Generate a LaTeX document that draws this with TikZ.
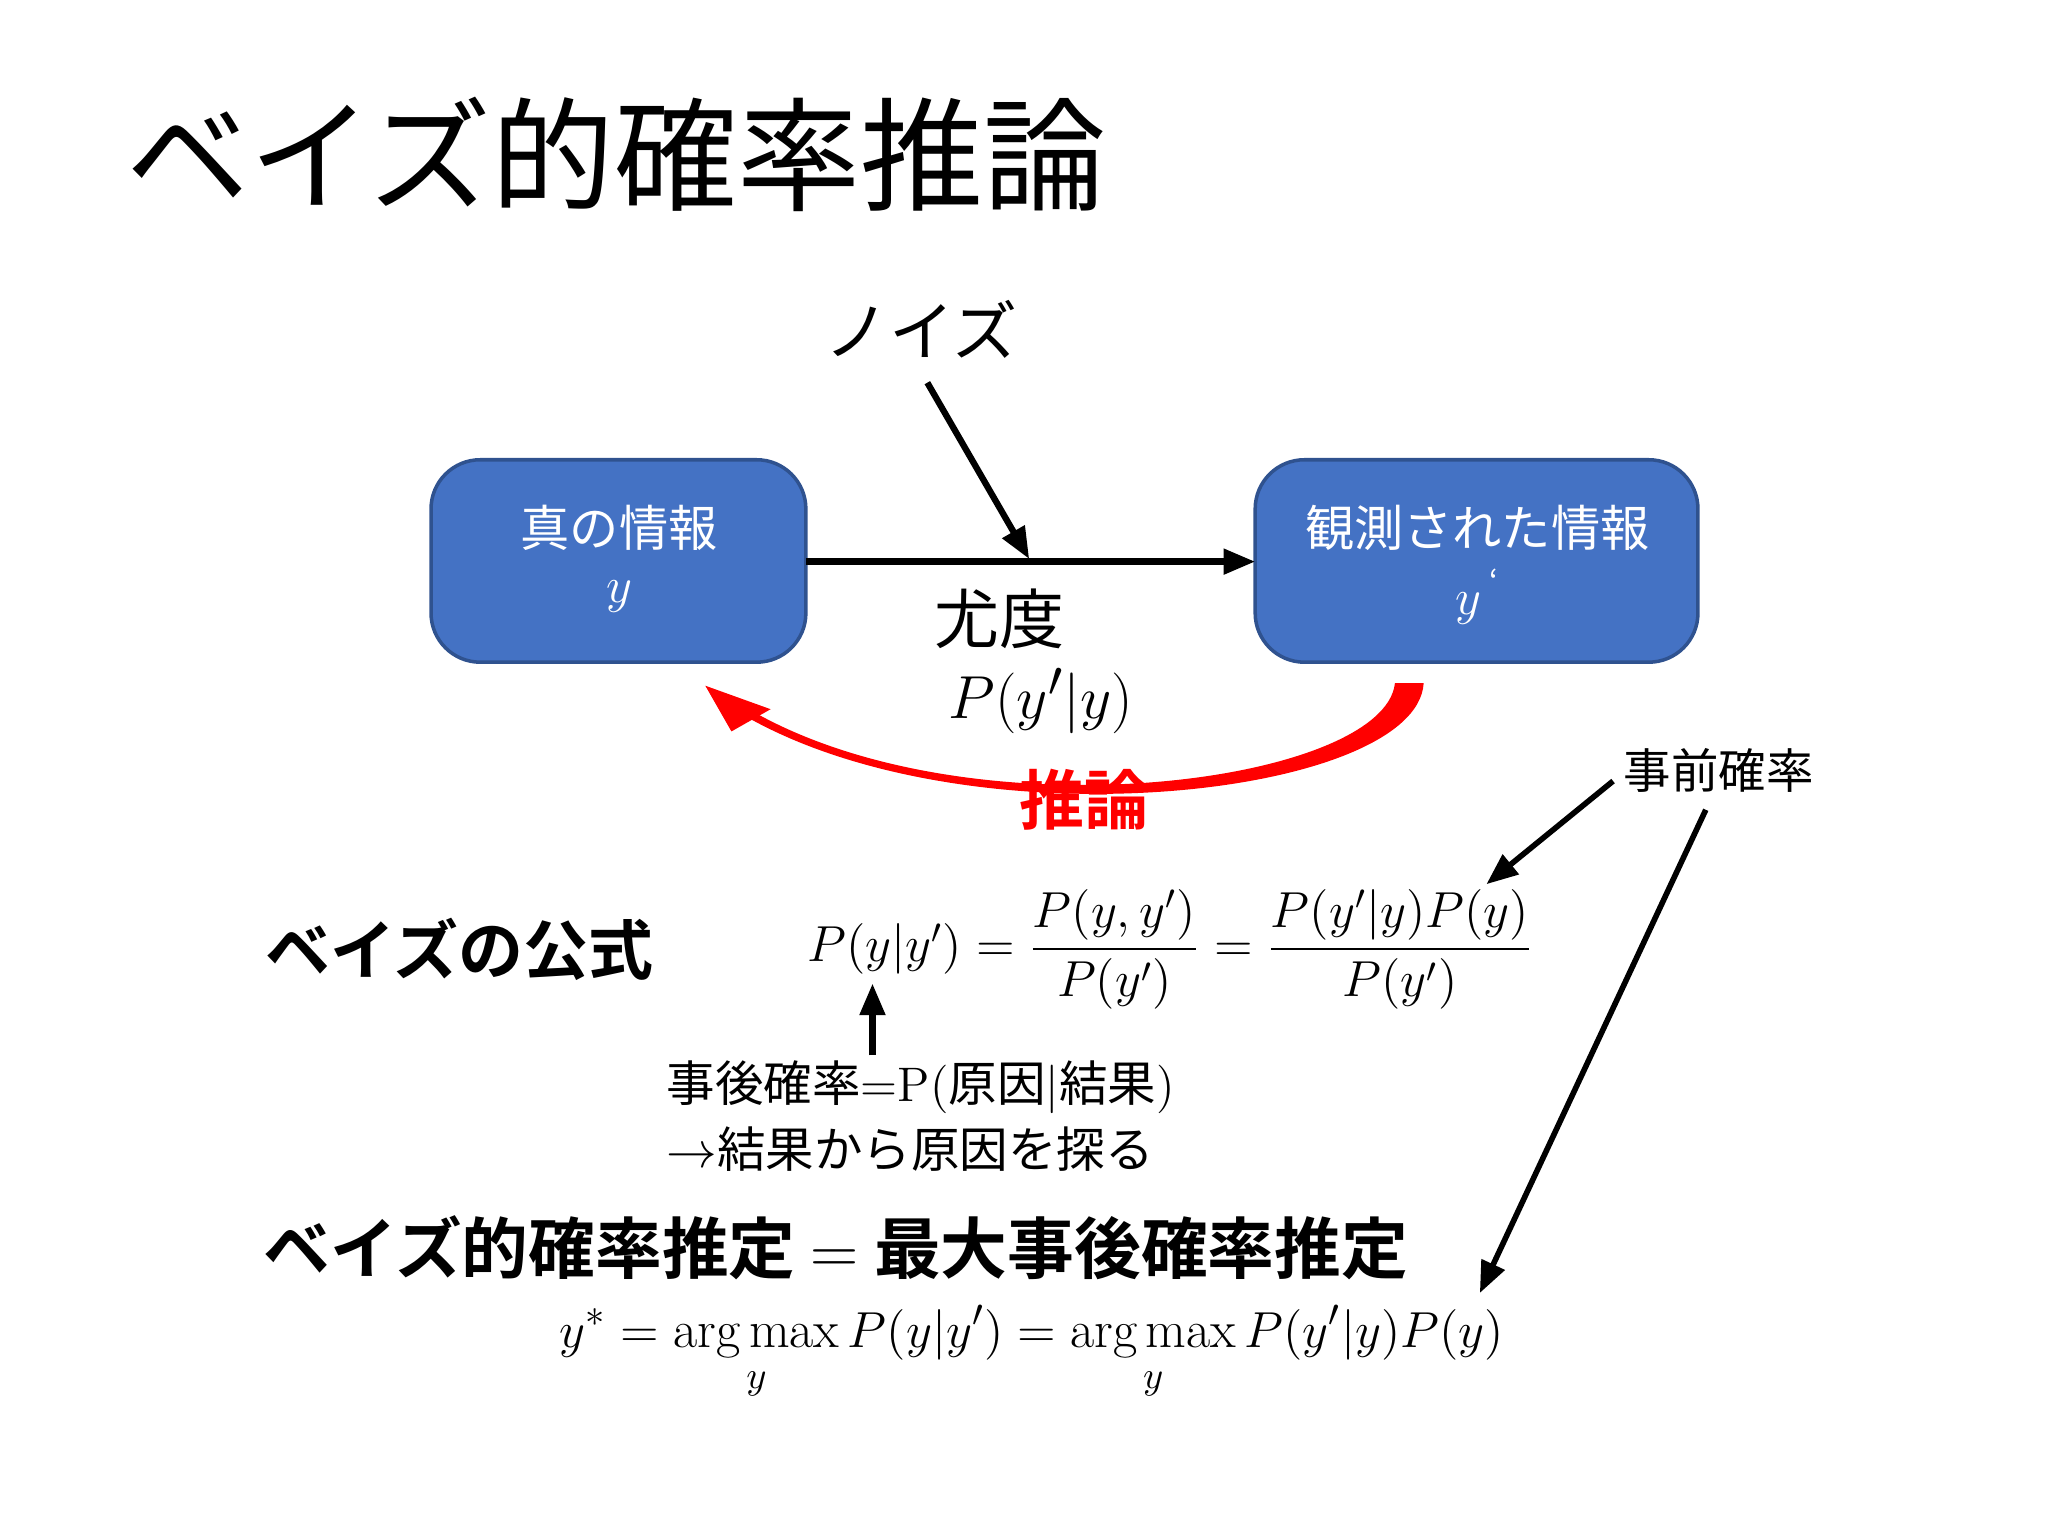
\documentclass[tikz,border=0pt]{standalone}
\usepackage{fontspec}
\usepackage{amsmath}
\newfontfamily\jp{Noto Sans CJK JP}
\newfontfamily\jpb{Noto Sans CJK JP Bold}
\usetikzlibrary{arrows.meta}
\definecolor{boxblue}{HTML}{4472C4}
\definecolor{boxedge}{HTML}{2F528F}
\tikzset{
  bx/.style={draw=boxedge,fill=boxblue,rounded corners=14pt,line width=1pt},
  ar/.style={-{Triangle[length=9pt,width=7pt]},line width=1.8pt},
  t/.style={inner sep=0pt,anchor=center}
}
\begin{document}
\begin{tikzpicture}[x=0.01306cm,y=-0.01306cm]
\useasboundingbox (0,0) rectangle (1568,1176);
\node[t] (title) at (472,118) {\jp\fontsize{35}{40}\selectfont ベイズ的確率推論};
\node[t] (noise) at (705,252) {\jp\fontsize{18.5}{22}\selectfont ノイズ};
\draw[bx] (330,352) rectangle (617,507);
\draw[bx] (961,352) rectangle (1300,507);
\coordinate (b1) at (617,430);
\coordinate (b2) at (961,430);
\node[t,white] (t1) at (474,404) {\jp\fontsize{14}{17}\selectfont 真の情報};
\node[t,white] (y1) at (474,457) {\fontsize{14}{17}\selectfont $y$};
\node[t,white] (t2) at (1131,404) {\jp\fontsize{14}{17}\selectfont 観測された情報};
\node[t,white] (y2) at (1131,457) {\fontsize{14}{17}\selectfont $y$\,\raisebox{1ex}{\jp\fontsize{9}{9}\selectfont ‘}};
\draw[ar] (b1) -- (b2);
\coordinate (n0) at (710,293);
\coordinate (n1) at (788,428);
\draw[ar] (n0) -- (n1);
\node[t] (lik) at (765,474) {\jp\fontsize{18.5}{22}\selectfont 尤度};
\node[t] (lk) at (797,537) {\fontsize{19}{22}\selectfont $P(y'|y)$};
% red arrow (tapered)
\fill[red] (1068,523) -- (1090,523) .. controls (1085,610) and (740,650) .. (565,545) -- (570,541) .. controls (740,643) and (1060,600) .. (1068,523) -- cycle;
\fill[red] (540,525) -- (590,543) -- (560,560) -- cycle;
\node[t,red] (inf) at (830,612) {\jpb\fontsize{18.5}{22}\selectfont 推論};
\node[t] (prior) at (1316,590) {\jp\fontsize{13.5}{16}\selectfont 事前確率};
\coordinate (p1) at (1235,598);
\coordinate (p2) at (1138,677);
\coordinate (p3) at (1306,620);
\coordinate (p4) at (1133,990);
\draw[ar,line width=1.6pt] (p1) -- (p2);
\draw[ar,line width=1.6pt] (p3) -- (p4);
\node[t] (bf) at (352,727) {\jpb\fontsize{18.5}{22}\selectfont ベイズの公式};
\node[t] (eq) at (896,727) {\fontsize{14.5}{17}\selectfont $P(y|y')=\dfrac{P(y,y')}{P(y')}=\dfrac{P(y'|y)P(y)}{P(y')}$};
\coordinate (u0) at (668,808);
\coordinate (u1) at (668,753);
\draw[ar,line width=1.8pt] (u0) -- (u1);
\node[anchor=west,inner sep=0pt] (post) at (510,832) {\fontsize{13.8}{16}\selectfont{\jp 事後確率}=P({\jp 原因}|{\jp 結果})};
\node[anchor=west,inner sep=0pt] (post2) at (510,880) {\fontsize{13.8}{16}\selectfont $\rightarrow${\jp 結果から原因を探る}};
\node[t] (map) at (640,955) {\jpb\fontsize{19}{23}\selectfont ベイズ的確率推定 {\rmfamily\mdseries =} 最大事後確率推定};
\node[t] (ys) at (790,1036) {\fontsize{15}{18}\selectfont $\displaystyle y^{*}=\operatorname*{arg\,max}_{y}P(y|y')=\operatorname*{arg\,max}_{y}P(y'|y)P(y)$};
\end{tikzpicture}
\end{document}
